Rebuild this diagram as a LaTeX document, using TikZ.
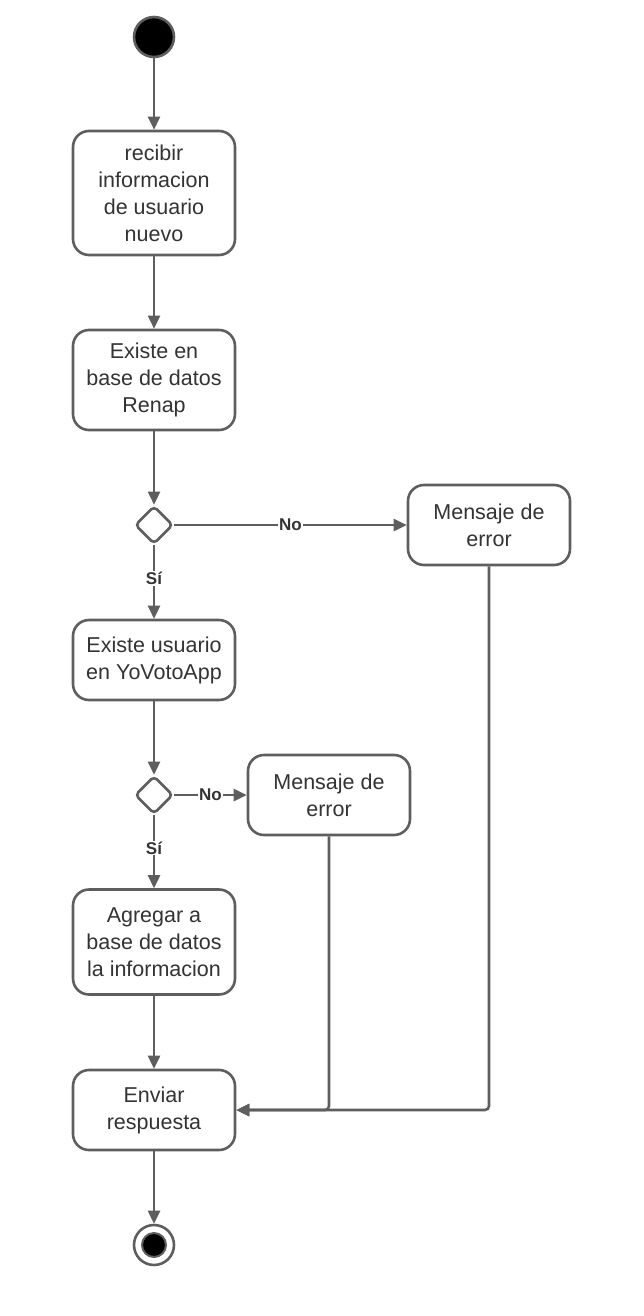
\documentclass[tikz,border=0pt]{standalone}
\usepackage{fontspec}
\setmainfont{Liberation Sans}
\usetikzlibrary{shapes.geometric,arrows.meta}
\definecolor{ln}{HTML}{5E5E5E}
\definecolor{tx}{HTML}{333333}
\tikzset{
  act/.style={draw=ln, line width=2.6pt, rounded corners=16pt, fill=white, minimum width=162pt, align=center, text=tx, font=\fontsize{21.5}{27}\selectfont, inner sep=0pt},
  dec/.style={draw=ln, line width=2.6pt, diamond, minimum width=38pt, minimum height=38pt, inner sep=0pt, rounded corners=4pt, fill=white},
  flow/.style={draw=ln, line width=2.6pt, -{Triangle[length=13pt,width=12pt]}},
  lbl/.style={fill=white, text=tx, font=\bfseries\fontsize{17}{17}\selectfont, inner sep=1pt}
}
\begin{document}
\begin{tikzpicture}[x=1pt,y=-1pt]
\useasboundingbox (0,0) rectangle (643,1316);
\node[circle, fill=black, draw=ln, line width=2.6pt, minimum size=40pt, inner sep=0pt] (start) at (154,37) {};
\node[act, minimum height=124pt] (b1) at (154,193) {recibir\\informacion\\de usuario\\nuevo};
\node[act, minimum height=100pt] (b2) at (154,380) {Existe en\\base de datos\\Renap};
\node[dec] (d1) at (154,525) {};
\node[act, minimum height=80pt] (e1) at (489,525) {Mensaje de\\error};
\node[act, minimum height=80pt] (b3) at (154,660) {Existe usuario\\en YoVotoApp};
\node[dec] (d2) at (154,795) {};
\node[act, minimum height=80pt] (e2) at (329,795) {Mensaje de\\error};
\node[act, minimum height=105pt] (b4) at (154,942) {Agregar a\\base de datos\\la informacion};
\node[act, minimum height=80pt] (b5) at (154,1110) {Enviar\\respuesta};
\node[circle, draw=ln, line width=2.6pt, minimum size=40pt, inner sep=0pt] (end) at (154,1245) {};
\node[circle, fill=black, draw=ln, line width=2pt, minimum size=24pt, inner sep=0pt] (endin) at (154,1245) {};

\draw[flow] (start) -- (b1);
\draw[flow] (b1) -- (b2);
\draw[flow] (b2) -- (d1);
\draw[flow] (d1) -- node[lbl, pos=0.5] {No} (e1);
\draw[flow] (d1) -- node[lbl, pos=0.45] {Sí} (b3);
\draw[flow] (b3) -- (d2);
\draw[flow] (d2) -- node[lbl, pos=0.5] {No} (e2);
\draw[flow] (d2) -- node[lbl, pos=0.45] {Sí} (b4);
\draw[flow] (b4) -- (b5);
\draw[flow, rounded corners=4pt] (e1.south) |- (b5.east);
\draw[flow, rounded corners=4pt] (e2.south) |- (b5.east);
\draw[flow] (b5) -- (end);
\end{tikzpicture}
\end{document}
